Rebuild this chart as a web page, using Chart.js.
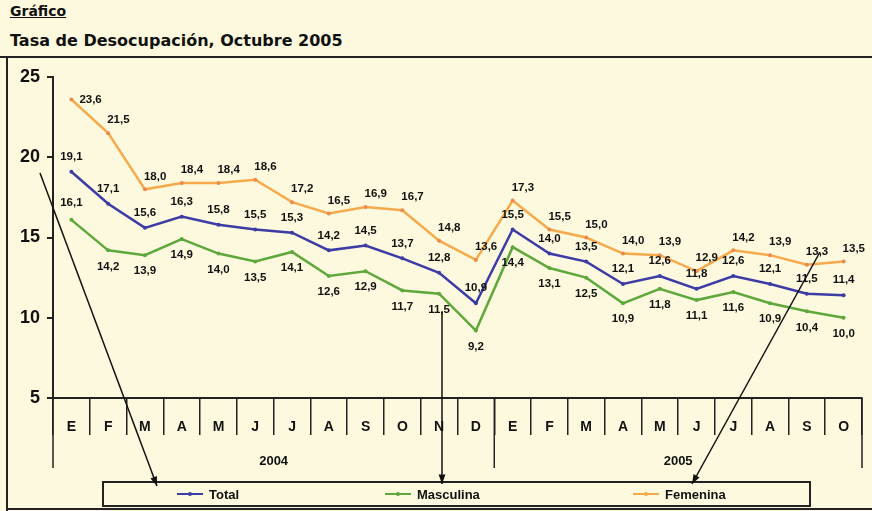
<!DOCTYPE html>
<html>
<head>
<meta charset="utf-8">
<script src="https://cdn.jsdelivr.net/npm/chart.js@4"></script>
<style>
  html, body { margin: 0; padding: 0; background: #fcf9de; }
  #wrap { position: relative; width: 872px; height: 511px; overflow: hidden; }
  #t1 { position: absolute; left: 10px; top: 3px; font: bold 14px "DejaVu Sans", sans-serif; text-decoration: underline; color: #111; }
  #t2 { position: absolute; left: 10px; top: 31px; font: bold 16px "DejaVu Sans", sans-serif; color: #111; }
  canvas { position: absolute; left: 0; top: 0; }
</style>
</head>
<body>
<div id="wrap">
  <div id="t1">Gráfico</div>
  <div id="t2">Tasa de Desocupación, Octubre 2005</div>
  <canvas id="grafico" width="872" height="511"></canvas>
</div>
<script>
const meses = ['E','F','M','A','M','J','J','A','S','O','N','D','E','F','M','A','M','J','J','A','S','O']
const anios = ['2004', '2005']
const mesesPorAnio = [12, 10]
const total = [19.1, 17.1, 15.6, 16.3, 15.8, 15.5, 15.3, 14.2, 14.5, 13.7, 12.8, 10.9, 15.5, 14.0, 13.5, 12.1, 12.6, 11.8, 12.6, 12.1, 11.5, 11.4]
const masculina = [16.1, 14.2, 13.9, 14.9, 14.0, 13.5, 14.1, 12.6, 12.9, 11.7, 11.5, 9.2, 14.4, 13.1, 12.5, 10.9, 11.8, 11.1, 11.6, 10.9, 10.4, 10.0]
const femenina = [23.6, 21.5, 18.0, 18.4, 18.4, 18.6, 17.2, 16.5, 16.9, 16.7, 14.8, 13.6, 17.3, 15.5, 15.0, 14.0, 13.9, 12.9, 14.2, 13.9, 13.3, 13.5]
const yTicks = [5, 10, 15, 20, 25]

const fuente = '"Liberation Sans", Arial, sans-serif'

// etiquetas de valor sobre / bajo cada punto
const etiquetas = {
  id: 'etiquetas',
  afterDatasetsDraw(chart) {
    const ctx = chart.ctx
    ctx.save()
    ctx.font = 'bold 11.5px ' + fuente
    ctx.fillStyle = '#111'
    chart.data.datasets.forEach((ds, i) => {
      const meta = chart.getDatasetMeta(i)
      meta.data.forEach((pt, j) => {
        let dx = 0, dy = -15, align = 'center'
        if (ds.label === 'Femenina') { dx = -1; dy = -13; align = 'left' }
        if (ds.label === 'Femenina' && j === 0) { dx = 8; dy = 0 }
        if (ds.label === 'Masculina') { dy = j === 0 ? -17 : 16 }
        ctx.textAlign = align
        ctx.textBaseline = 'middle'
        ctx.fillText(ds.data[j].toFixed(1).replace('.', ','), pt.x + dx, pt.y + dy)
      })
    })
    ctx.restore()
  }
}

// años, separadores largos, leyenda, marco y flechas
const decoracion = {
  id: 'decoracion',
  afterDraw(chart) {
    const ctx = chart.ctx
    const x = chart.scales.x
    const half = (x.getPixelForValue(1) - x.getPixelForValue(0)) / 2
    const bottom = chart.chartArea.bottom
    ctx.save()
    ctx.strokeStyle = '#222'
    ctx.lineWidth = 1.5
    let idx = 0
    const bordes = [x.getPixelForValue(0) - half]
    anios.forEach((a, k) => {
      const x0 = x.getPixelForValue(idx) - half
      idx += mesesPorAnio[k]
      const x1 = x.getPixelForValue(idx - 1) + half
      bordes.push(x1)
      ctx.font = 'bold 13px ' + fuente
      ctx.fillStyle = '#111'
      ctx.textAlign = 'center'
      ctx.textBaseline = 'middle'
      ctx.fillText(a, (x0 + x1) / 2, 461)
    })
    bordes.forEach(bx => {
      ctx.beginPath(); ctx.moveTo(bx, bottom); ctx.lineTo(bx, 468); ctx.stroke()
    })

    // leyenda
    ctx.lineWidth = 2
    ctx.strokeRect(103, 482, 707, 24)
    const pos = [177, 385, 633]
    chart.data.datasets.forEach((ds, i) => {
      ctx.strokeStyle = ds.borderColor
      ctx.lineWidth = 2
      ctx.beginPath(); ctx.moveTo(pos[i], 494); ctx.lineTo(pos[i] + 26, 494); ctx.stroke()
      ctx.fillStyle = ds.borderColor
      ctx.beginPath(); ctx.arc(pos[i] + 13, 494, 2, 0, Math.PI * 2); ctx.fill()
      ctx.fillStyle = '#111'
      ctx.font = 'bold 13px ' + fuente
      ctx.textAlign = 'left'
      ctx.textBaseline = 'middle'
      ctx.fillText(ds.label, pos[i] + 32, 495)
    })

    // marco
    ctx.strokeStyle = '#222'
    ctx.lineWidth = 2
    ctx.beginPath()
    ctx.moveTo(0, 57); ctx.lineTo(872, 57)
    ctx.moveTo(7, 57); ctx.lineTo(7, 511)
    ctx.moveTo(7, 509); ctx.lineTo(872, 509)
    ctx.stroke()

    // flechas
    const flecha = (x0, y0, x1, y1) => {
      ctx.strokeStyle = '#111'
      ctx.fillStyle = '#111'
      ctx.lineWidth = 1.5
      ctx.beginPath(); ctx.moveTo(x0, y0); ctx.lineTo(x1, y1); ctx.stroke()
      const ang = Math.atan2(y1 - y0, x1 - x0)
      ctx.beginPath()
      ctx.moveTo(x1, y1)
      ctx.lineTo(x1 - 10 * Math.cos(ang - 0.35), y1 - 10 * Math.sin(ang - 0.35))
      ctx.lineTo(x1 - 10 * Math.cos(ang + 0.35), y1 - 10 * Math.sin(ang + 0.35))
      ctx.closePath(); ctx.fill()
    }
    flecha(40, 173, 157, 486)
    flecha(442, 312, 442, 484)
    flecha(820, 252, 692, 484)
    ctx.restore()
  }
}

new Chart(document.getElementById('grafico'), {
  type: 'line',
  data: {
    labels: meses,
    datasets: [
      { label: 'Total', data: total, borderColor: '#3c3ca6', backgroundColor: '#3c3ca6' },
      { label: 'Masculina', data: masculina, borderColor: '#5ea83c', backgroundColor: '#5ea83c' },
      { label: 'Femenina', data: femenina, borderColor: '#f6aa4c', backgroundColor: '#ee8a50' }
    ]
  },
  options: {
    responsive: false,
    animation: false,
    events: [],
    elements: {
      line: { borderWidth: 2.5, tension: 0 },
      point: { radius: 2, borderWidth: 0 }
    },
    layout: { padding: { left: 8, top: 77, right: 10, bottom: 0 } },
    plugins: { legend: { display: false }, tooltip: { enabled: false } },
    scales: {
      x: {
        offset: true,
        afterFit: s => { s.height = 113 },
        grid: { offset: true, drawOnChartArea: false, tickLength: 37, color: '#222', lineWidth: 1.5 },
        border: { display: true, color: '#222', width: 2 },
        ticks: { autoSkip: false, maxRotation: 0, padding: -16, color: '#111', font: { family: fuente, size: 14, weight: 'bold' } }
      },
      y: {
        min: 5,
        max: 25,
        afterFit: s => { s.width = 45 },
        afterBuildTicks: s => { s.ticks = yTicks.map(v => ({ value: v })) },
        grid: { drawOnChartArea: false, tickLength: 6, color: '#222', lineWidth: 2 },
        border: { display: true, color: '#222', width: 2 },
        ticks: { padding: 7, color: '#111', font: { family: fuente, size: 18, weight: 'bold' } }
      }
    }
  },
  plugins: [etiquetas, decoracion]
})
</script>
</body>
</html>
